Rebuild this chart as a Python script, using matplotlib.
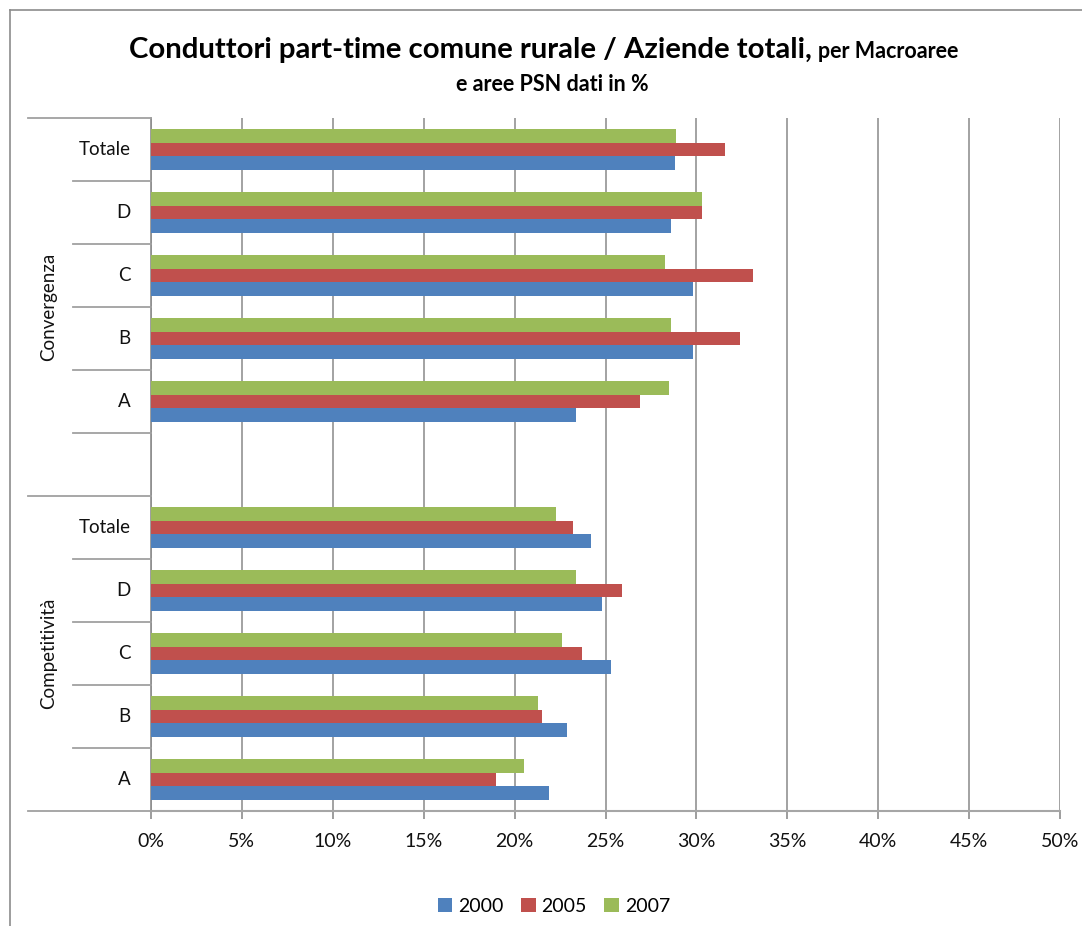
import matplotlib
matplotlib.use("Agg")
import matplotlib.pyplot as plt
from matplotlib.lines import Line2D
from matplotlib.patches import Patch
from matplotlib.ticker import FuncFormatter, MultipleLocator

plt.rcParams['font.family'] = ['Lato', 'DejaVu Sans']

# Data (% of total farms), bottom-to-top order within each macro-area
areas = ["A", "B", "C", "D", "Totale"]
groups = ["Competitività", "Convergenza"]
years = ["2000", "2005", "2007"]

comp_2000 = [21.9, 22.9, 25.3, 24.8, 24.2]
comp_2005 = [19.0, 21.5, 23.7, 25.9, 23.2]
comp_2007 = [20.5, 21.3, 22.6, 23.4, 22.3]

conv_2000 = [23.4, 29.8, 29.8, 28.6, 28.8]
conv_2005 = [26.9, 32.4, 33.1, 30.3, 31.6]
conv_2007 = [28.5, 28.6, 28.3, 30.3, 28.9]

colors = ["#4F81BD", "#C0504D", "#9BBB59"]

W, H = 1082, 926
fig = plt.figure(figsize=(W / 100, H / 100), dpi=100)

def fx(px):
    return px / W

def fy(py):
    return 1 - py / H

# plot area
x0, x1, ytop, ybot = 151, 1060, 118, 811
ax = fig.add_axes([fx(x0), fy(ybot), fx(x1) - fx(x0), fy(ytop) - fy(ybot)])

# slot positions: Competitività 0-4, blank 5, Convergenza 6-10
comp_pos = list(range(0, 5))
conv_pos = list(range(6, 11))
bh = 0.222

series_comp = [comp_2000, comp_2005, comp_2007]
series_conv = [conv_2000, conv_2005, conv_2007]
for i, (sc, sv) in enumerate(zip(series_comp, series_conv)):
    off = (i - 1) * bh
    ax.barh([p + off for p in comp_pos], sc, height=bh, color=colors[i],
            label=years[i], zorder=3)
    ax.barh([p + off for p in conv_pos], sv, height=bh, color=colors[i],
            zorder=3)

ax.set_xlim(0, 50)
ax.set_ylim(-0.5, 10.5)
ax.xaxis.set_major_locator(MultipleLocator(5))
ax.xaxis.set_major_formatter(FuncFormatter(lambda v, p: f"{v:.0f}%"))
ax.grid(axis="x", color="#929292", linewidth=1.2, zorder=0)
ax.set_axisbelow(True)
for s in ["top", "right"]:
    ax.spines[s].set_visible(False)
ax.spines["left"].set_color("#8c8c8c")
ax.spines["bottom"].set_color("#a6a6a6")
ax.spines["bottom"].set_linewidth(1.5)
ax.spines["left"].set_linewidth(1.2)
ax.tick_params(axis="x", length=6, color="#8c8c8c", width=1.2,
               labelsize=14, pad=10, labelcolor="#111111")
ax.set_yticks([])

# category labels and multi-level separators
line_kw = dict(color="#a0a0a0", linewidth=1.3, transform=fig.transFigure)
slot_h = (ybot - ytop) / 11.0

def slot_center_px(pos):
    return ybot - (pos + 0.5) * slot_h

for pos_list in (comp_pos, conv_pos):
    for a, p in zip(areas, pos_list):
        fig.text(fx(131), fy(slot_center_px(p)), a, ha="right", va="center",
                 fontsize=13.5, color="#111111")

# inner boundaries
for k in list(range(1, 5)) + list(range(6, 11)):
    y = ybot - k * slot_h
    fig.add_artist(Line2D([fx(73), fx(x0)], [fy(y), fy(y)], **line_kw))
# outer boundaries
for k in (0, 5, 11):
    y = ybot - k * slot_h
    fig.add_artist(Line2D([fx(28), fx(x0)], [fy(y), fy(y)], **line_kw))

# group labels
fig.text(fx(49), fy((ybot + (ybot - 5 * slot_h)) / 2), groups[0],
         rotation=90, ha="center", va="center", fontsize=13.5, color="#111111")
fig.text(fx(49), fy(((ybot - 5 * slot_h) + ytop) / 2), groups[1],
         rotation=90, ha="center", va="center", fontsize=13.5, color="#111111")

# title
fig.text(fx(812), fy(58), "Conduttori part-time comune rurale / Aziende totali,",
         ha="right", va="baseline", fontsize=21.2, fontweight="bold")
fig.text(fx(818), fy(58), "per Macroaree", ha="left", va="baseline",
         fontsize=15.5, fontweight="bold")
fig.text(fx(552), fy(91), "e aree PSN dati in %", ha="center", va="baseline",
         fontsize=15.5, fontweight="bold")

# legend
handles = [Patch(facecolor=c, label=y) for c, y in zip(colors, years)]
fig.legend(handles=handles, loc="center", bbox_to_anchor=(fx(554), fy(906)),
           ncol=3, frameon=False, fontsize=14, handlelength=0.75,
           handleheight=0.75, handletextpad=0.3, columnspacing=0.9)

# chart frame edges
frame_kw = dict(color="#8c8c8c", linewidth=1.2, transform=fig.transFigure)
fig.add_artist(Line2D([fx(10), fx(10)], [fy(10), 0], **frame_kw))
fig.add_artist(Line2D([fx(10), 1], [fy(10), fy(10)], **frame_kw))

fig.savefig("out.png", dpi=100, facecolor="white")
